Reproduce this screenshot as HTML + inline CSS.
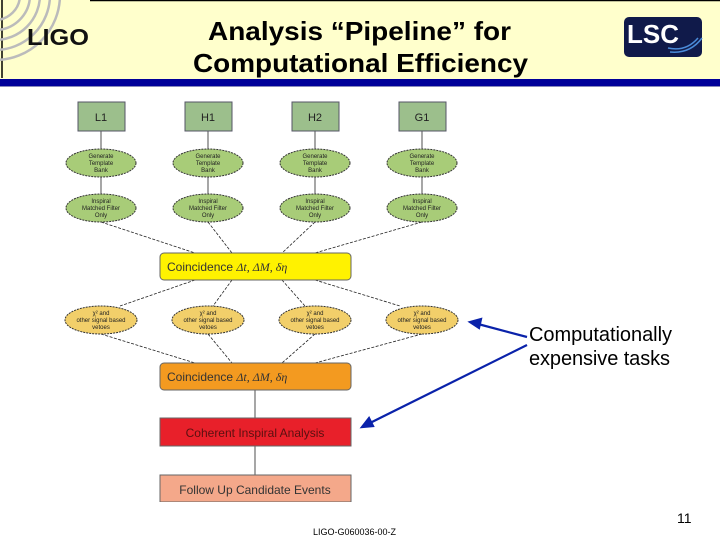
<!DOCTYPE html>
<html><head><style>
body{margin:0;width:720px;height:540px;background:#fff;position:relative;overflow:hidden;font-family:"Liberation Sans",sans-serif}
</style></head><body>
<svg width="720" height="540" style="position:absolute;left:0;top:0" font-family="Liberation Sans, sans-serif">
<rect x="0" y="0" width="720" height="80" fill="#ffffcc"/>
<line x1="90" y1="0.5" x2="720" y2="0.5" stroke="#000" stroke-width="1.5"/>
<line x1="2" y1="0" x2="2" y2="78" stroke="#000" stroke-width="1.5"/>
<rect x="0" y="79" width="720" height="7" fill="#000099"/>
<rect x="0" y="86" width="720" height="1" fill="#8888bb"/>
<g fill="none" stroke="#bbb" stroke-width="2.5">
<circle cx="-5" cy="-5" r="25"/><circle cx="-5" cy="-5" r="35"/><circle cx="-5" cy="-5" r="45"/><circle cx="-5" cy="-5" r="55"/><circle cx="-5" cy="-5" r="65"/>
</g>
<text x="27" y="45" font-size="23" font-weight="bold" fill="#111" textLength="62" lengthAdjust="spacingAndGlyphs">LIGO</text>
<text x="208" y="40" font-size="26" font-weight="bold" fill="#000" textLength="303" lengthAdjust="spacingAndGlyphs">Analysis “Pipeline” for</text>
<text x="193" y="72" font-size="26" font-weight="bold" fill="#000" textLength="335" lengthAdjust="spacingAndGlyphs">Computational Efficiency</text>
<rect x="624" y="17" width="78" height="40" rx="5" fill="#101a4a"/>
<g fill="none" stroke="#4a8ad8" stroke-width="1.5"><path d="M668 48 q18 4 30-10"/><path d="M670 52 q20 2 32-14"/></g>
<text x="627" y="43" font-size="26" font-weight="bold" fill="#fff">LSC</text>

<g stroke="#222" stroke-width="0.8">
<line x1="101" y1="131" x2="101" y2="208"/><line x1="208" y1="131" x2="208" y2="208"/><line x1="315" y1="131" x2="315" y2="208"/><line x1="422" y1="131" x2="422" y2="208"/>
<g stroke-dasharray="3,1.5">
<line x1="101" y1="222" x2="195" y2="253"/><line x1="208" y1="222" x2="232" y2="253"/><line x1="315" y1="222" x2="282" y2="253"/><line x1="422" y1="222" x2="315" y2="253"/>
<line x1="195" y1="280" x2="120" y2="306"/><line x1="232" y1="280" x2="213" y2="306"/><line x1="282" y1="280" x2="305" y2="306"/><line x1="315" y1="280" x2="400" y2="306"/>
<line x1="101" y1="334" x2="195" y2="363"/><line x1="208" y1="334" x2="232" y2="363"/><line x1="315" y1="334" x2="282" y2="363"/><line x1="422" y1="334" x2="315" y2="363"/>
</g>
<line x1="255" y1="390" x2="255" y2="475"/>
</g>
<g fill="#9cbf8c" stroke="#556">
<rect x="78" y="102" width="47" height="29"/><rect x="185" y="102" width="47" height="29"/><rect x="292" y="102" width="47" height="29"/><rect x="399" y="102" width="47" height="29"/>
</g>
<g font-size="11" fill="#222" text-anchor="middle"><text x="101" y="121">L1</text><text x="208" y="121">H1</text><text x="315" y="121">H2</text><text x="422" y="121">G1</text></g>
<g fill="#a8cc78" stroke="#333" stroke-dasharray="2,1">
<ellipse cx="101" cy="163" rx="35" ry="14"/><ellipse cx="208" cy="163" rx="35" ry="14"/><ellipse cx="315" cy="163" rx="35" ry="14"/><ellipse cx="422" cy="163" rx="35" ry="14"/>
<ellipse cx="101" cy="208" rx="35" ry="14"/><ellipse cx="208" cy="208" rx="35" ry="14"/><ellipse cx="315" cy="208" rx="35" ry="14"/><ellipse cx="422" cy="208" rx="35" ry="14"/>
</g>
<g fill="#f2cf6a" stroke="#333" stroke-dasharray="2,1">
<ellipse cx="101" cy="320" rx="36" ry="14"/><ellipse cx="208" cy="320" rx="36" ry="14"/><ellipse cx="315" cy="320" rx="36" ry="14"/><ellipse cx="422" cy="320" rx="36" ry="14"/>
</g>
<g font-size="6" fill="#222" text-anchor="middle">
<g id="g1"><text x="101" y="158">Generate</text><text x="101" y="165">Template</text><text x="101" y="172">Bank</text>
<text x="101" y="203">Inspiral</text><text x="101" y="210">Matched Filter</text><text x="101" y="217">Only</text>
<text x="101" y="315">χ² and</text><text x="101" y="322">other signal based</text><text x="101" y="329">vetoes</text></g>
<use href="#g1" x="107"/><use href="#g1" x="214"/><use href="#g1" x="321"/>
</g>
<rect x="160" y="253" width="191" height="27" rx="4" fill="#fff200" stroke="#666"/>
<text x="167" y="271" font-size="12" fill="#333">Coincidence  <tspan font-family="Liberation Serif, serif" font-style="italic">Δt, ΔM, δη</tspan></text>
<rect x="160" y="363" width="191" height="27" rx="4" fill="#f39a20" stroke="#666"/>
<text x="167" y="381" font-size="12" fill="#333">Coincidence  <tspan font-family="Liberation Serif, serif" font-style="italic">Δt, ΔM, δη</tspan></text>
<rect x="160" y="418" width="191" height="28" fill="#e8202a" stroke="#666"/>
<text x="255" y="437" font-size="12" fill="#5a1010" text-anchor="middle">Coherent Inspiral Analysis</text>
<rect x="160" y="475" width="191" height="27" fill="#f4a88a" stroke="#666"/>
<text x="255" y="494" font-size="12" fill="#333" text-anchor="middle">Follow Up Candidate Events</text>
<rect x="150" y="502" width="220" height="10" fill="#fff"/>
<g stroke="#0a22aa" stroke-width="2.2" fill="#0a22aa">
<line x1="527" y1="337" x2="478" y2="324"/><polygon points="470,322 481,319 479,328" />
<line x1="527" y1="345" x2="370" y2="423"/><polygon points="362,427 369,418 373,426"/>
</g>
<text x="529" y="341" font-size="20" fill="#000" textLength="143">Computationally</text>
<text x="529" y="365" font-size="20" fill="#000" textLength="141">expensive tasks</text>
<text x="677" y="523" font-size="14" fill="#000">11</text>
<text x="313" y="535" font-size="9" fill="#000">LIGO-G060036-00-Z</text>
</svg>
</body></html>
